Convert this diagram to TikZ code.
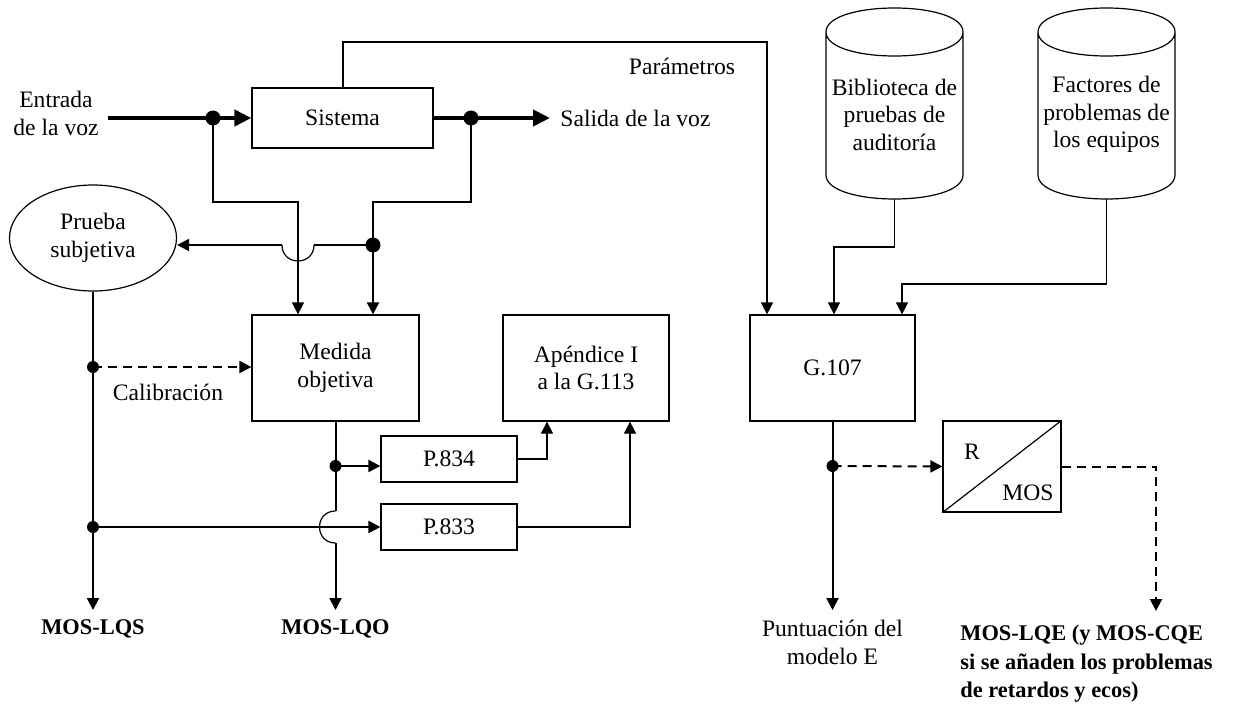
\documentclass[tikz,border=0pt]{standalone}
\usepackage{fontspec}
\setmainfont{Liberation Serif}
\usetikzlibrary{arrows.meta,shapes.geometric}
\begin{document}
\begin{tikzpicture}[x=0.5pt,y=-0.5pt,
  every node/.style={font=\fontsize{11.8}{13.75}\selectfont},
  box/.style={draw,line width=0.6pt,inner sep=0pt,align=center},
  thinl/.style={line width=0.6pt},
  medl/.style={line width=1pt},
  thickl/.style={line width=2pt},
  arr/.style={-{Triangle[length=6pt,width=6pt]}},
  bigarr/.style={-{Triangle[length=8.5pt,width=8pt]}},
  dsh/.style={dash pattern=on 4.5pt off 3pt},
  lbl/.style={inner sep=0pt,align=center},
  boldlbl/.style={font=\fontsize{11.2}{14.2}\selectfont\bfseries,inner xsep=0pt},
  bigdot/.style={radius=3.75pt},
  smalldot/.style={radius=3pt}]
\useasboundingbox (0,0) rectangle (1235,706);

% boxes
\node[box,minimum width=90.5pt,minimum height=30pt] (sis) at (342.5,118) {Sistema};
\node[box,minimum width=83.5pt,minimum height=53pt] (med) at (335.5,368) {Medida\\objetiva};
\node[box,minimum width=83pt,minimum height=53pt] (ape) at (586,368) {Apéndice I\\a la G.113};
\node[box,minimum width=68pt,minimum height=23pt] (p834) at (449,459) {P.834};
\node[box,minimum width=68pt,minimum height=23pt] (p833) at (449,527) {P.833};
\node[box,minimum width=82.5pt,minimum height=53pt] (g107) at (832.5,368) {G.107};
\node[box,minimum width=59pt,minimum height=45.5pt] (rmos) at (1002,466.5) {};
\draw[thinl] (rmos.south west) -- (rmos.north east);
\node[lbl] (rlbl) at (972,452) {R};
\node[lbl] (moslbl) at (1028,493) {MOS};
\node[draw,ellipse,line width=0.6pt,inner sep=0pt,align=center,minimum width=83.5pt,minimum height=53pt] (pru) at (93,238) {Prueba\\subjetiva};

% cylinders
\draw[thinl] (826,32) .. controls (826,0) and (963,0) .. (963,32) .. controls (963,64) and (826,64) .. (826,32) -- (826,175) .. controls (826,207) and (963,207) .. (963,175) -- (963,32);
\node[lbl] (bib) at (894.5,114.5) {Biblioteca de\\pruebas de\\auditoría};
\coordinate (bibB) at (894.5,199);
\draw[thinl] (1038,32) .. controls (1038,0) and (1175,0) .. (1175,32) .. controls (1175,64) and (1038,64) .. (1038,32) -- (1038,175) .. controls (1038,207) and (1175,207) .. (1175,175) -- (1175,32);
\node[lbl] (fac) at (1106.5,114.5) {Factores de\\problemas de\\los equipos};
\coordinate (facB) at (1106.5,199);

% labels
\node[lbl] (ent) at (56,113.5) {Entrada\\de la voz};
\node[lbl,anchor=west] (sal) at (560,118) {Salida de la voz};
\node[lbl] (par) at (682,66) {Parámetros};
\node[lbl] (cal) at (168,392) {Calibración};
\node[boldlbl,anchor=north,inner ysep=4.8pt] (mosS) at (93,610) {MOS-LQS};
\node[boldlbl,anchor=north,inner ysep=4.8pt] (mosO) at (335.5,610) {MOS-LQO};
\node[lbl,anchor=north,inner ysep=5pt] (punt) at (832.5,610) {Puntuación del\\modelo E};
\node[boldlbl,anchor=north west,inner ysep=7pt,align=left] (mosE) at (960,611) {MOS-LQE (y MOS-CQE\\si se añaden los problemas\\de retardos y ecos)};

% coordinates
\coordinate (inS) at (108,118);
\coordinate (dIn) at (213,118);
\coordinate (dOut) at (471,118);
\coordinate (outE) at (550,118);
\coordinate (dMid) at (373,245);
\coordinate (dCal) at (93,367);
\coordinate (dP833) at (93,527);
\coordinate (dP834) at (335.5,466);
\coordinate (dG) at (832.5,466);

% voice path
\draw[thickl,bigarr] (inS) -- (sis.west);
\draw[thickl,bigarr] (sis.east) -- (outE);

% taps to Medida
\draw[thinl,arr] (dIn) |- (298,202) -- (298,0 |- med.north);
\draw[thinl] (dOut) |- (373,202) -- (dMid);
\draw[medl,arr] (dMid) -- (373,0 |- med.north);
\draw[medl] (dMid) -- (314,245);
\draw[thinl] (314,245) .. controls (314,266.3) and (282,266.3) .. (282,245);
\draw[medl,arr] (282,245) -- (pru.east |- dMid);

% parametros
\draw[thinl,arr] (sis.north -| 343,0) |- (767,42) -- (767,0 |- g107.north);

% subjective branch
\draw[medl,arr] (pru.south) -- (mosS.north);
\draw[medl,dsh,arr] (dCal) -- (med.west |- dCal);
\draw[medl,arr] (dP833) -- (p833.west);

% objective output
\draw[medl] (med.south) -- (335.5,511);
\draw[thinl] (335.5,511) .. controls (314.2,511) and (314.2,543) .. (335.5,543);
\draw[medl,arr] (335.5,543) -- (mosO.north);
\draw[medl,arr] (dP834) -- (p834.west |- dP834);

% to appendix
\draw[thinl,arr] (p834.east) -| (ape.south -| 547,0);
\draw[thinl,arr] (p833.east) -| (ape.south -| 630,0);

% cylinders to G.107
\draw[thinl,arr] (bibB) |- (834,247) -- (g107.north -| 834,0);
\draw[thinl,arr] (facB) |- (902,284) -- (g107.north -| 902,0);

% G.107 output
\draw[medl,arr] (g107.south) -- (punt.north);
\draw[medl,dsh,arr] (dG) -- (rmos.west);
\draw[medl,dsh,arr] (rmos.east) -| (mosE.north -| 1156,0);

% dots
\fill (dIn) circle[bigdot];
\fill (dOut) circle[bigdot];
\fill (dMid) circle[bigdot];
\fill (dCal) circle[smalldot];
\fill (dP833) circle[smalldot];
\fill (dP834) circle[smalldot];
\fill (dG) circle[smalldot];
\end{tikzpicture}
\end{document}
